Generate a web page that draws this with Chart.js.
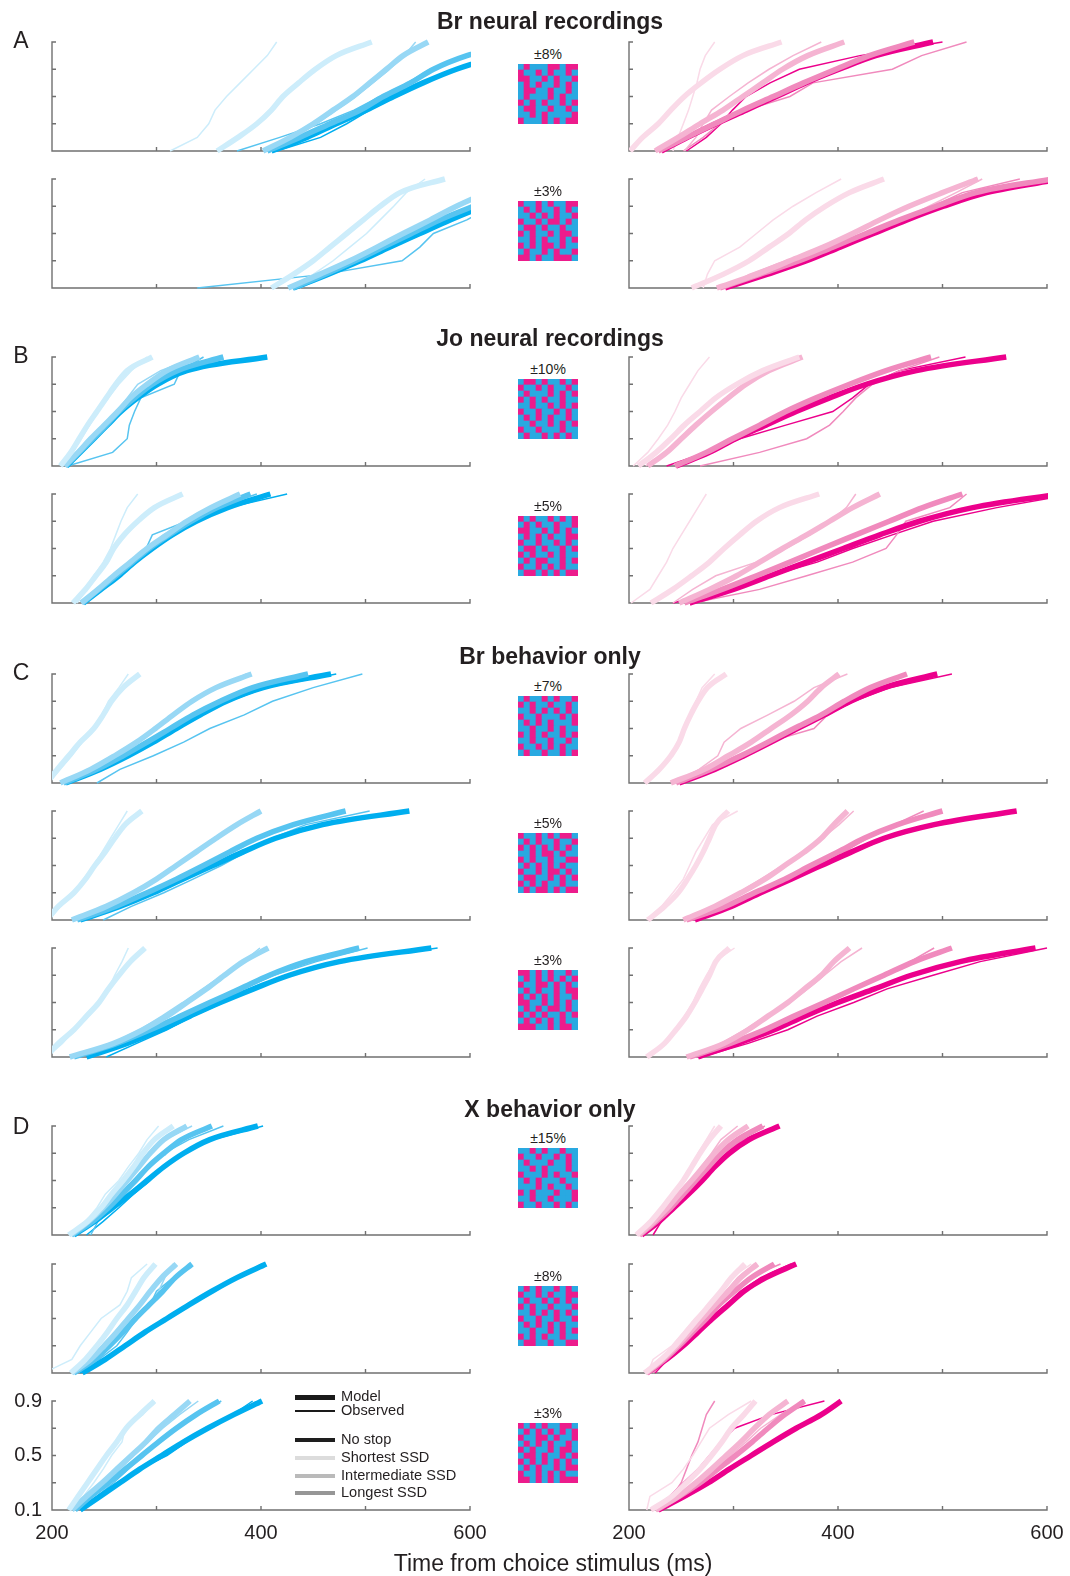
<!DOCTYPE html>
<html>
<head>
<meta charset="utf-8">
<script src="https://cdn.jsdelivr.net/npm/chart.js@4.4.1/dist/chart.umd.min.js"></script>
<style>
body{margin:0;background:#fff;width:1070px;height:1576px;position:relative;overflow:hidden;font-family:"Liberation Sans",Arial,sans-serif;color:#231f20}
.txt{position:absolute;white-space:nowrap;transform:translate(-50%,-50%)}
.title{font-weight:bold;font-size:23px}
.letter{font-size:23px}
.coh{font-size:14px}
.lg{position:absolute;left:295px;width:40px}
.lgt{position:absolute;left:341px;font-size:14.6px;line-height:16px;white-space:nowrap}
canvas{position:absolute}
</style>
</head>
<body>
<script>
// quantile levels (y) shared by every curve
const levels = [0.1, 0.2, 0.3, 0.4, 0.5, 0.6, 0.7, 0.8, 0.9];
// condition order in every array: shortest SSD, intermediate SSD, longest SSD, no stop
const conditions = ['Shortest SSD', 'Intermediate SSD', 'Longest SSD', 'No stop'];
const blueCols = ['#CDEDFB', '#98D8F5', '#57C4F0', '#00AEEF'];
const pinkCols = ['#FADAE8', '#F5B4D2', '#F08ABD', '#EC008C'];

// RT (ms) at each quantile level
const A1_blue_model = [[358,378,396,410,421,436,452,472,506],[402,428,450,469,488,504,520,536,560],[406,437,466,495,517,543,565,597,648],[410,444,472,501,527,555,587,629,676]];
const A1_blue_obs = [[313,339,350,356,367,380,393,406,415],[405,431,453,472,491,507,523,537,548],[377,418,457,489,514,540,562,594,645],[415,457,482,504,530,557,587,629,676]];
const A1_pink_model = [[201,213,228,240,253,269,287,309,346],[225,247,268,290,309,328,347,371,406],[228,255,282,309,338,367,398,430,473],[231,256,283,312,341,369,401,436,491]];
const A1_pink_obs = [[242,247,252,257,261,265,268,273,282],[253,264,271,279,296,314,334,357,384],[252,271,287,312,354,376,452,480,523],[255,274,288,299,312,335,363,421,500]];

const A2_blue_model = [[410,431,450,466,482,498,514,533,576],[426,456,485,511,536,562,587,616,648],[430,461,490,517,544,571,603,635,670],[431,464,495,523,552,581,613,648,686]];
const A2_blue_obs = [[428,450,469,485,501,514,527,539,557],[437,466,491,514,538,562,587,616,648],[339,460,535,552,565,597,622,651,686],[434,466,498,526,555,584,616,651,686]];
const A2_pink_model = [[260,290,315,334,353,369,388,411,444],[284,322,354,386,414,440,468,500,534],[287,325,363,395,427,459,494,532,605],[292,332,370,402,434,466,501,542,614]];
const A2_pink_obs = [[271,275,282,306,322,338,357,379,403],[292,315,350,401,436,462,487,513,538],[290,322,357,395,427,465,491,519,574],[293,325,363,398,430,462,497,538,612]];

const B1_blue_model = [[208,218,226,234,243,252,261,272,296],[212,225,237,250,263,275,291,310,341],[213,226,239,252,264,279,296,320,364],[214,227,240,253,266,282,301,329,406]];
const B1_blue_obs = [[210,220,228,236,244,254,264,276,291],[212,225,237,250,262,272,282,304,339],[215,258,272,274,279,285,317,323,345],[215,227,240,253,266,282,301,329,403]];
const B1_pink_model = [[209,226,240,253,268,283,303,328,363],[218,236,250,264,279,295,312,334,366],[244,274,299,325,350,379,411,446,489],[245,277,302,331,360,392,427,475,561]];
const B1_pink_obs = [[204,218,228,237,244,250,258,266,277],[216,234,249,263,277,293,311,333,363],[268,325,370,392,405,417,433,459,497],[236,274,306,350,395,414,430,459,522]];

const B2_blue_model = [[220,232,242,252,259,269,282,298,325],[228,244,259,275,291,310,329,352,380],[229,245,261,277,293,312,333,358,390],[230,247,264,279,296,315,338,368,409]];
const B2_blue_obs = [[224,233,240,249,256,261,266,272,282],[228,244,258,275,290,307,328,352,386],[231,245,261,279,290,296,329,358,396],[231,247,264,279,296,315,338,369,425]];
const B2_pink_model = [[221,242,260,277,291,306,322,344,382],[248,277,303,325,347,370,392,414,440],[253,289,322,354,385,417,449,481,519],[258,300,335,370,405,440,478,529,612]];
const B2_pink_obs = [[202,220,228,236,242,250,258,266,274],[242,261,283,322,350,373,392,408,417],[261,325,370,414,446,456,465,507,523],[242,293,335,380,414,452,491,552,625]];

const C1_blue_model = [[195,205,216,227,240,249,257,268,284],[208,237,260,281,299,316,334,357,391],[211,243,268,291,313,335,361,392,445],[213,246,273,297,319,342,367,402,467]];
const C1_blue_obs = [[197,208,219,229,240,248,254,264,273],[210,238,262,283,300,318,335,357,386],[243,265,297,326,351,384,411,450,497],[214,248,274,298,320,343,369,405,472]];
const C1_pink_model = [[215,229,240,248,253,259,266,275,293],[240,272,295,317,336,355,371,384,401],[245,278,307,333,358,384,406,431,466],[248,282,310,336,361,387,412,444,495]];
const C1_pink_obs = [[217,230,240,248,253,259,264,270,282],[244,267,285,291,307,333,358,377,409],[250,282,310,333,377,390,409,441,492],[247,278,308,336,363,390,415,450,509]];

const C2_blue_model = [[195,206,221,232,241,251,260,270,286],[219,252,278,300,319,338,357,377,400],[224,261,291,319,345,370,396,431,481],[227,265,297,325,354,383,414,459,542]];
const C2_blue_obs = [[197,208,221,230,240,248,256,264,272],[221,252,279,301,320,339,357,377,399],[249,276,307,335,362,386,411,443,504],[229,266,299,327,355,384,416,462,539]];
const C2_pink_model = [[218,234,247,256,264,271,277,283,295],[252,282,307,330,349,368,384,396,409],[255,292,320,349,374,400,425,457,500],[263,298,326,355,384,413,444,492,571]];
const C2_pink_obs = [[217,231,242,252,258,264,272,280,304],[253,282,305,326,347,366,385,401,415],[260,295,327,352,377,406,428,454,482],[261,297,326,355,386,416,446,494,568]];

const C3_blue_model = [[194,206,221,233,245,254,264,275,289],[217,259,287,310,329,348,365,383,407],[221,262,294,323,351,380,408,443,494],[233,272,304,332,361,393,427,475,563]];
const C3_blue_obs = [[195,210,222,235,246,254,260,267,273],[221,257,284,305,325,344,363,383,399],[224,265,299,326,354,383,412,453,502],[252,281,310,335,364,394,429,477,569]];
const C3_pink_model = [[217,234,245,255,263,270,277,283,296],[255,291,314,333,352,368,384,396,411],[258,297,330,358,387,415,444,473,509],[266,304,339,368,400,435,470,517,589]];
const C3_pink_obs = [[218,234,245,253,261,267,274,282,301],[256,288,311,331,354,371,387,403,423],[263,301,330,358,387,415,444,469,492],[269,314,352,380,415,447,491,536,600]];

const D1_blue_model = [[216,234,247,257,268,278,287,298,316],[218,235,249,261,272,283,294,307,329],[219,239,254,267,280,292,307,324,353],[221,241,258,275,291,307,326,351,397]];
const D1_blue_obs = [[218,232,243,251,264,273,283,291,302],[219,237,251,263,274,284,295,308,334],[237,244,257,270,281,294,307,331,364],[233,249,264,278,294,305,324,354,402]];
const D1_pink_model = [[207,221,232,242,252,260,268,277,288],[209,224,237,248,260,271,282,295,314],[210,226,240,252,264,276,288,304,328],[212,229,243,257,270,282,296,315,344]];
const D1_pink_obs = [[209,223,234,244,253,260,266,274,282],[210,226,238,250,260,269,279,288,304],[212,228,242,253,264,276,290,309,330],[223,231,241,250,261,272,284,308,343]];

const D2_blue_model = [[218,232,243,253,262,272,280,288,299],[219,237,250,262,273,284,294,305,319],[221,241,255,268,280,293,306,318,334],[229,251,270,289,310,331,353,377,405]];
const D2_blue_obs = [[192,219,227,237,247,265,272,276,291],[221,241,253,265,278,294,302,308,316],[224,245,262,272,281,294,300,316,332],[227,249,268,287,309,331,352,376,401]];
const D2_pink_model = [[215,231,244,255,266,277,288,298,311],[216,232,246,258,270,282,295,307,323],[217,234,248,261,274,286,301,317,339],[217,236,252,266,280,295,310,331,360]];
const D2_pink_obs = [[218,223,241,252,263,276,287,298,317],[221,234,247,259,271,282,293,304,320],[223,235,249,262,275,288,301,315,345],[225,237,252,266,279,293,307,326,355]];

const D3_blue_model = [[216,225,234,243,252,262,271,284,298],[219,233,248,262,276,290,302,317,332],[222,237,254,270,286,302,319,338,360],[227,246,265,284,305,326,349,374,401]];
const D3_blue_obs = [[217,230,240,249,257,267,270,287,298],[221,237,251,265,278,292,306,322,340],[224,243,259,273,287,302,320,340,362],[229,246,262,284,310,329,348,373,392]];
const D3_pink_model = [[221,241,255,268,279,289,298,310,321],[225,247,264,279,293,307,320,334,352],[226,248,268,285,302,318,333,349,368],[228,253,276,296,317,338,360,384,403]];
const D3_pink_obs = [[217,220,241,252,261,269,277,295,317],[226,248,266,282,297,312,326,345,368],[231,241,250,255,260,266,270,274,282],[221,239,252,266,277,288,301,336,387]];

// stimulus checkerboards (b = cyan, p = magenta), top row first
const P_A1 = ['bpbbbppbpp','pbbpbpbbpb','ppbbpbpbbp','bpbpbbpbpb','bppbbpbbpb','bpbbbpbpbb','pbpbpbbpbp','bppbbpbbpb','bbpbpbbbbp','pbbbpbpbpp'];
const P_A2 = ['pbbpbpbbpp','bpbpbbpbpb','bbpbpbpbbp','pbbpbppbpb','bppbpbbpbb','pbpbbpbppb','bbpbpbbpbp','pbpbppbpbb','bpbbpbpbbp','ppbpbbpppb'];
const P_B1 = ['bppbpbbpbp','pbbpbpbbpb','bpbbbpbpbp','pbpbpbbpbb','bbpbbpbpbp','pbbpbbpbpb','bpbpbpbbpb','bbpbbpbpbp','pbbpbbbpbb','bpbbpbpbpb'];
const P_B2 = ['pbpbbpbpbp','bpbpbbpbbp','ppbbpbpbpb','bpbpbpbbpp','pbbpbbpbpb','bppbpbbpbp','pbpbbpbpbb','bpbppbbpbp','pbbpbpbpbb','bppbpbpbpp'];
const P_C1 = ['bpbbpbpbbp','pbpbbpbbpb','bbpbpbpbpb','pbbpbbbpbp','bpbpbpbbbp','bbpbbpbpbb','pbpbpbbpbp','bbpbbpbbpb','pbbpbpbpbb','bpbbpbbpbp'];
const P_C2 = ['pbbpbpbppb','bpbpbbpbbp','pbpbpbpbpb','bbpbppbpbb','pbpbbpbbpp','bpbpbpbpbb','pbbpbppbpb','bppbbpbpbp','pbpbpbbpbb','bpbppbpbpp'];
const P_C3 = ['ppbpbpbbpb','bpbpbpbpbp','pbbppbpbpb','bpbpbbpbpp','pbpbpbpbbp','ppbbpbpbpb','bpbpbppbpb','pbpbpbbpbp','bpbpbpbpbb','pppbbpbppb'];
const P_D1 = ['bbpbpbbpbb','pbbpbbpbpb','bpbbbpbbpb','bbpbpbbbpb','pbbbpbpbbp','bpbpbbbpbb','bbbpbpbbpb','pbpbbbpbbp','bbpbbpbbbp','pbbpbbpbpb'];
const P_D2 = ['bpbpbbpbpb','pbbpbpbbpp','bpbbpbpbpb','pbpbbpbbbp','bbpbpbpbpb','pbbpbbpbbp','bpbpbpbpbb','bbpbbpbpbp','pbpbpbbpbb','bppbbpbbpp'];
const P_D3 = ['pbpbpbbppb','bpbpbpbpbp','pbbppbpbbp','bpbpbpbbpb','pbpbbpbppb','bppbpbbpbp','pbpbpbpbpb','bpbpbbpbpp','pbbpbpbpbb','ppbpbpbppp'];

const cohLabels = ['±8%','±3%','±10%','±5%','±7%','±5%','±3%','±15%','±8%','±3%'];

const rows = [
  {top: 42,   blue: [A1_blue_model, A1_blue_obs], pink: [A1_pink_model, A1_pink_obs], board: P_A1},
  {top: 179,  blue: [A2_blue_model, A2_blue_obs], pink: [A2_pink_model, A2_pink_obs], board: P_A2},
  {top: 357,  blue: [B1_blue_model, B1_blue_obs], pink: [B1_pink_model, B1_pink_obs], board: P_B1},
  {top: 494,  blue: [B2_blue_model, B2_blue_obs], pink: [B2_pink_model, B2_pink_obs], board: P_B2},
  {top: 674,  blue: [C1_blue_model, C1_blue_obs], pink: [C1_pink_model, C1_pink_obs], board: P_C1},
  {top: 811,  blue: [C2_blue_model, C2_blue_obs], pink: [C2_pink_model, C2_pink_obs], board: P_C2},
  {top: 948,  blue: [C3_blue_model, C3_blue_obs], pink: [C3_pink_model, C3_pink_obs], board: P_C3},
  {top: 1126, blue: [D1_blue_model, D1_blue_obs], pink: [D1_pink_model, D1_pink_obs], board: P_D1},
  {top: 1264, blue: [D2_blue_model, D2_blue_obs], pink: [D2_pink_model, D2_pink_obs], board: P_D2},
  {top: 1401, blue: [D3_blue_model, D3_blue_obs], pink: [D3_pink_model, D3_pink_obs], board: P_D3}
];

const sections = [
  {title: 'Br neural recordings', letter: 'A', ty: 21, ly: 40},
  {title: 'Jo neural recordings', letter: 'B', ty: 338, ly: 355},
  {title: 'Br behavior only', letter: 'C', ty: 656, ly: 672},
  {title: 'X behavior only', letter: 'D', ty: 1109, ly: 1126}
];

const xTicks = [300, 400, 500, 600];
const yTicks = [0.3, 0.5, 0.7];
const xLabels = [200, 400, 600];
const yLabels = [0.9, 0.5, 0.1];

const PLOT_W = 418, PLOT_H = 109;
const PAD = {left: 45, right: 25, top: 8, bottom: 40};
const FONT = '"Liberation Sans", Arial, sans-serif';

// inward ticks, L-shaped axes and the few tick labels
const quantAxes = {
  id: 'qaxes',
  beforeDatasetsDraw(chart, args, opts) {
    const ctx = chart.ctx, xs = chart.scales.x, ys = chart.scales.y;
    const x0 = xs.getPixelForValue(200), x1 = xs.getPixelForValue(600);
    const yb = ys.getPixelForValue(0.1), yt = ys.getPixelForValue(0.9);
    ctx.save();
    ctx.strokeStyle = '#707070';
    ctx.lineWidth = 1.4;
    ctx.beginPath();
    ctx.moveTo(x0 + 4, yt); ctx.lineTo(x0, yt); ctx.lineTo(x0, yb); ctx.lineTo(x1, yb); ctx.lineTo(x1, yb - 4);
    yTicks.forEach(v => { const y = ys.getPixelForValue(v); ctx.moveTo(x0, y); ctx.lineTo(x0 + 4, y); });
    xTicks.forEach(v => { const x = xs.getPixelForValue(v); ctx.moveTo(x, yb); ctx.lineTo(x, yb - 4); });
    ctx.stroke();
    ctx.fillStyle = '#231f20';
    ctx.font = '20px ' + FONT;
    ctx.textBaseline = 'middle';
    if (opts.xLabels) {
      ctx.textAlign = 'center';
      xLabels.forEach(v => ctx.fillText(String(v), xs.getPixelForValue(v), yb + 23));
    }
    if (opts.yLabels) {
      ctx.textAlign = 'right';
      yLabels.forEach(v => ctx.fillText(v.toFixed(1), x0 - 10, ys.getPixelForValue(v)));
    }
    ctx.restore();
  }
};

function toPoints(xsArr) {
  return xsArr.map((x, k) => ({x: x, y: levels[k]}));
}

function makeSets(model, obs, cols) {
  const sets = [];
  model.forEach((arr, i) => sets.push({
    label: conditions[i] + ' model', data: toPoints(arr), borderColor: cols[i],
    borderWidth: 5.5, cubicInterpolationMode: 'monotone', pointRadius: 0,
    borderJoinStyle: 'round', clip: {left: 0, right: 1, top: 6, bottom: 6}
  }));
  obs.forEach((arr, i) => sets.push({
    label: conditions[i] + ' observed', data: toPoints(arr), borderColor: cols[i],
    borderWidth: 1.5, tension: 0, pointRadius: 0,
    clip: {left: 0, right: 1, top: 6, bottom: 6}
  }));
  return sets;
}

function addPanel(left, top, pair, cols, showX, showY) {
  const c = document.createElement('canvas');
  c.width = PLOT_W + PAD.left + PAD.right;
  c.height = PLOT_H + PAD.top + PAD.bottom;
  c.style.left = (left - PAD.left) + 'px';
  c.style.top = (top - PAD.top) + 'px';
  document.body.appendChild(c);
  new Chart(c, {
    type: 'line',
    data: {datasets: makeSets(pair[0], pair[1], cols)},
    options: {
      responsive: false, animation: false, devicePixelRatio: 1,
      layout: {padding: PAD},
      scales: {
        x: {type: 'linear', min: 200, max: 600, display: false},
        y: {type: 'linear', min: 0.1, max: 0.9, display: false}
      },
      plugins: {legend: {display: false}, tooltip: {enabled: false}, qaxes: {xLabels: showX, yLabels: showY}}
    },
    plugins: [quantAxes]
  });
}

function addBoard(top, pattern, label) {
  const c = document.createElement('canvas');
  c.width = 60; c.height = 60;
  c.style.left = '518px'; c.style.top = top + 'px';
  document.body.appendChild(c);
  const cols = ['0','1','2','3','4','5','6','7','8','9'];
  const sets = pattern.slice().reverse().map(row => ({
    data: cols.map(() => 1),
    backgroundColor: row.split('').map(ch => ch === 'p' ? '#EC1C8C' : '#29A9E1'),
    borderWidth: 0, barPercentage: 1, categoryPercentage: 1
  }));
  new Chart(c, {
    type: 'bar',
    data: {labels: cols, datasets: sets},
    options: {
      responsive: false, animation: false, devicePixelRatio: 1,
      scales: {x: {stacked: true, display: false}, y: {stacked: true, display: false, min: 0, max: 10}},
      plugins: {legend: {display: false}, tooltip: {enabled: false}}
    }
  });
  const t = document.createElement('div');
  t.className = 'txt coh';
  t.style.left = '548px'; t.style.top = (top - 10) + 'px';
  t.textContent = label;
  document.body.appendChild(t);
}

function addText(cls, text, x, y) {
  const d = document.createElement('div');
  d.className = 'txt ' + cls;
  d.style.left = x + 'px'; d.style.top = y + 'px';
  d.textContent = text;
  document.body.appendChild(d);
}

rows.forEach((r, i) => {
  const last = i === rows.length - 1;
  addPanel(52, r.top, r.blue, blueCols, last, last);
  addPanel(629, r.top, r.pink, pinkCols, last, false);
  addBoard(r.top + 22, r.board, cohLabels[i]);
});

sections.forEach(s => {
  addText('title', s.title, 550, s.ty);
  addText('letter', s.letter, 21, s.ly);
});

const axisTitle = document.createElement('div');
axisTitle.className = 'txt';
axisTitle.style.cssText = 'left:553px;top:1563px;font-size:23px';
axisTitle.textContent = 'Time from choice stimulus (ms)';
document.body.appendChild(axisTitle);

// legend
const legendItems = [
  {text: 'Model', y: 1397, h: 5, color: '#1a1a1a'},
  {text: 'Observed', y: 1411, h: 1.5, color: '#1a1a1a'},
  {text: 'No stop', y: 1440, h: 4, color: '#1e1e1e'},
  {text: 'Shortest SSD', y: 1458, h: 4, color: '#dcdcdc'},
  {text: 'Intermediate SSD', y: 1476, h: 4, color: '#bababa'},
  {text: 'Longest SSD', y: 1493, h: 4, color: '#969696'}
];
legendItems.forEach(it => {
  const l = document.createElement('div');
  l.className = 'lg';
  l.style.top = (it.y - it.h / 2) + 'px';
  l.style.height = it.h + 'px';
  l.style.background = it.color;
  document.body.appendChild(l);
  const t = document.createElement('div');
  t.className = 'lgt';
  t.style.top = (it.y - 9) + 'px';
  t.textContent = it.text;
  document.body.appendChild(t);
});
</script>
</body>
</html>
